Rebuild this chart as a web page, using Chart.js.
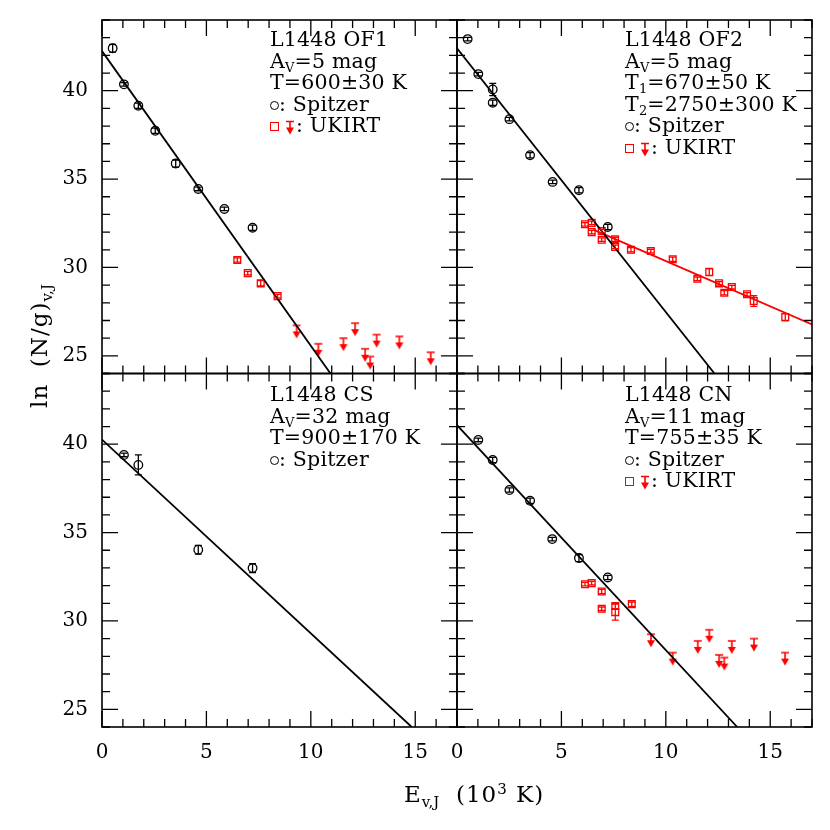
<!DOCTYPE html>
<html>
<head>
<meta charset="utf-8">
<script src="https://cdn.jsdelivr.net/npm/chart.js@4.4.0/dist/chart.umd.min.js"></script>
<style>
    body { margin: 0; background: #fff; }
    #wrap { position: relative; width: 830px; height: 830px; font-family: "DejaVu Serif", serif; }
    #chart { position: absolute; left: 0; top: 0; }
    .note { position: absolute; font-size: 20.5px; letter-spacing: 0.2px; line-height: 21.5px; color: #000; white-space: nowrap; }
    .note sub { font-size: 13px; line-height: 0; vertical-align: -4px; }
    .title { position: absolute; font-size: 23px; line-height: 24px; letter-spacing: 1px; color: #000; white-space: nowrap; }
    .title sub { font-size: 15px; line-height: 0; vertical-align: -5px; letter-spacing: 0; }
    .title sup { font-size: 15px; line-height: 0; vertical-align: 8px; }
    .circ { display: inline-block; width: 7px; height: 7px; border: 1.5px solid #000; border-radius: 50%; vertical-align: 1px; }
    .sq { display: inline-block; width: 7px; height: 7px; border: 1.5px solid #f00; vertical-align: 1px; margin-right: 5px; }
    .arr { vertical-align: -3px; }
</style>
</head>
<body>
<div id="wrap">
    <canvas id="chart" width="830" height="830"></canvas>

    <div class="note" style="left:270px; top:29px">L1448 OF1<br>A<sub>V</sub>=5 mag<br>T=600±30 K<br><span class="circ"></span>: Spitzer<br><span class="sq"></span><span class="arr-slot"></span>: UKIRT</div>
    <div class="note" style="left:625px; top:29px">L1448 OF2<br>A<sub>V</sub>=5 mag<br>T<sub>1</sub>=670±50 K<br>T<sub>2</sub>=2750±300 K<br><span class="circ"></span>: Spitzer<br><span class="sq"></span><span class="arr-slot"></span>: UKIRT</div>
    <div class="note" style="left:270px; top:384px">L1448 CS<br>A<sub>V</sub>=32 mag<br>T=900±170 K<br><span class="circ"></span>: Spitzer</div>
    <div class="note" style="left:625px; top:384px">L1448 CN<br>A<sub>V</sub>=11 mag<br>T=755±35 K<br><span class="circ"></span>: Spitzer<br><span class="sq"></span><span class="arr-slot"></span>: UKIRT</div>

    <div class="title" style="left:-111px; top:334px; width:300px; text-align:center; transform:rotate(-90deg)">ln&nbsp; (N/g)<sub>v,J</sub></div>
    <div class="title" style="left:404px; top:782px">E<sub>v,J</sub>&nbsp; (10<sup>3</sup> K)</div>
</div>

<script>
    // L1448 OF1
    const of1SpitzerE = [0.51, 1.05, 1.74, 2.55, 3.53, 4.61, 5.86, 7.21];
    const of1SpitzerLn = [42.40, 40.36, 39.15, 37.73, 35.88, 34.44, 33.31, 32.25];
    const of1SpitzerErr = [0.22, 0.1, 0.15, 0.15, 0.2, 0.1, 0.1, 0.15];
    const of1UkirtE = [6.48, 6.98, 7.60, 8.41];
    const of1UkirtLn = [30.42, 29.68, 29.10, 28.38];
    const of1UkirtErr = [0.12, 0.1, 0.15, 0.1];
    const of1LimitE = [9.32, 10.36, 11.56, 12.12, 12.60, 12.84, 13.15, 14.24, 15.74];
    const of1LimitLn = [26.72, 25.68, 26.0, 26.85, 25.4, 24.96, 26.2, 26.1, 25.2];
    const of1FitE = [0, 10.94];
    const of1FitLn = [42.24, 24];

    // L1448 OF2
    const of2SpitzerE = [0.51, 1.02, 1.71, 1.71, 2.51, 3.50, 4.58, 5.84, 7.22];
    const of2SpitzerLn = [42.92, 40.94, 40.07, 39.32, 38.39, 36.35, 34.84, 34.37, 32.29];
    const of2SpitzerErr = [0.1, 0.1, 0.35, 0.15, 0.1, 0.15, 0.1, 0.15, 0.15];
    const of2UkirtE = [6.13, 6.45, 6.45, 6.93, 6.93, 7.57, 7.57, 8.33, 9.28, 10.33, 11.51, 12.08, 12.55, 12.80, 13.16, 13.89, 14.21, 15.72];
    const of2UkirtLn = [32.44, 32.52, 32.0, 32.06, 31.57, 31.59, 31.16, 31.0, 30.93, 30.46, 29.36, 29.74, 29.10, 28.57, 28.89, 28.48, 28.10, 27.19];
    const of2UkirtErr = [0.1, 0.1, 0.1, 0.1, 0.1, 0.12, 0.1, 0.12, 0.1, 0.12, 0.1, 0.2, 0.1, 0.12, 0.1, 0.1, 0.3, 0.2];
    const of2FitE = [0, 12.33];
    const of2FitLn = [42.40, 24];
    const of2Fit2E = [6.53, 17];
    const of2Fit2Ln = [32.14, 26.77];

    // L1448 CS
    const csSpitzerE = [1.05, 1.74, 4.61, 7.21];
    const csSpitzerLn = [39.39, 38.83, 34.03, 32.99];
    const csSpitzerErr = [0.1, 0.57, 0.25, 0.25];
    const csFitE = [0, 14.83];
    const csFitLn = [40.26, 24];

    // L1448 CN
    const cnSpitzerE = [1.02, 1.71, 2.51, 3.50, 4.56, 5.84, 7.22];
    const cnSpitzerLn = [40.24, 39.11, 37.41, 36.80, 34.63, 33.56, 32.46];
    const cnSpitzerErr = [0.1, 0.15, 0.12, 0.15, 0.1, 0.2, 0.12];
    const cnUkirtE = [6.13, 6.45, 6.93, 6.93, 7.58, 7.58, 8.37];
    const cnUkirtLn = [32.08, 32.14, 31.67, 30.69, 30.85, 30.50, 30.95];
    const cnUkirtErr = [0.1, 0.1, 0.12, 0.1, 0.15, 0.45, 0.12];
    const cnLimitE = [9.29, 10.33, 11.53, 12.08, 12.55, 12.80, 13.16, 14.22, 15.71];
    const cnLimitLn = [29.25, 28.21, 28.87, 29.5, 28.08, 27.93, 28.87, 29.0, 28.21];
    const cnFitE = [0, 13.42];
    const cnFitLn = [41.08, 24];

    const red = '#ff0000';

    // upper limit symbol: bar at (6, top), arrow pointing down
    function makeArrow(color, top, height) {
        const c = document.createElement('canvas');
        c.width = 12;
        c.height = height;
        const g = c.getContext('2d');
        g.strokeStyle = color;
        g.fillStyle = color;
        g.lineWidth = 1.6;
        g.beginPath();
        g.moveTo(2, top);
        g.lineTo(10, top);
        g.moveTo(6, top);
        g.lineTo(6, top + 8);
        g.stroke();
        g.beginPath();
        g.moveTo(2, top + 6);
        g.lineTo(10, top + 6);
        g.lineTo(6, top + 13);
        g.closePath();
        g.fill();
        return c;
    }

    const arrow = makeArrow(red, 14, 28);

    document.querySelectorAll('.arr-slot').forEach(slot => {
        const a = makeArrow(red, 1.5, 15);
        a.className = 'arr';
        slot.appendChild(a);
    });

    function pts(xs, ys) {
        return xs.map((x, i) => ({x: x, y: ys[i]}));
    }

    function spitzer(xs, ys, err, xAxis, yAxis) {
        return {
            data: pts(xs, ys), yErr: err, xAxisID: xAxis, yAxisID: yAxis,
            pointStyle: 'circle', pointRadius: 4.3, borderColor: '#000', borderWidth: 1.3,
            backgroundColor: 'rgba(0,0,0,0)'
        };
    }

    function ukirt(xs, ys, err, xAxis, yAxis) {
        return {
            data: pts(xs, ys), yErr: err, xAxisID: xAxis, yAxisID: yAxis,
            pointStyle: 'rect', pointRadius: 4.8, borderColor: red, borderWidth: 1.3,
            backgroundColor: 'rgba(0,0,0,0)'
        };
    }

    function limits(xs, ys, xAxis, yAxis) {
        return {
            data: pts(xs, ys), xAxisID: xAxis, yAxisID: yAxis,
            pointStyle: arrow, pointRadius: 6, borderColor: red, backgroundColor: red
        };
    }

    function fit(xs, ys, color, xAxis, yAxis) {
        return {
            data: pts(xs, ys), xAxisID: xAxis, yAxisID: yAxis,
            showLine: true, pointRadius: 0, borderColor: color, borderWidth: 1.8
        };
    }

    const errorBars = {
        id: 'errorBars',
        afterDatasetsDraw(chart) {
            const ctx = chart.ctx;
            ctx.save();
            chart.data.datasets.forEach((ds, i) => {
                if (!ds.yErr) return;
                const meta = chart.getDatasetMeta(i);
                const ys = chart.scales[ds.yAxisID];
                ctx.strokeStyle = ds.borderColor;
                ctx.lineWidth = 1.3;
                ctx.beginPath();
                meta.data.forEach((el, j) => {
                    const top = ys.getPixelForValue(ds.data[j].y + ds.yErr[j]);
                    const bot = ys.getPixelForValue(ds.data[j].y - ds.yErr[j]);
                    ctx.moveTo(el.x, top);
                    ctx.lineTo(el.x, bot);
                    ctx.moveTo(el.x - 3.5, top);
                    ctx.lineTo(el.x + 3.5, top);
                    ctx.moveTo(el.x - 3.5, bot);
                    ctx.lineTo(el.x + 3.5, bot);
                });
                ctx.stroke();
            });
            ctx.restore();
        }
    };

    // panel frames with inward ticks on all four sides
    const frames = {
        id: 'frames',
        afterDraw(chart) {
            const ctx = chart.ctx;
            const panels = [['xL', 'yT'], ['xR', 'yT'], ['xL', 'yB'], ['xR', 'yB']];
            ctx.save();
            ctx.strokeStyle = '#000';
            panels.forEach(([xa, ya]) => {
                const xs = chart.scales[xa];
                const ys = chart.scales[ya];
                ctx.lineWidth = 1.6;
                ctx.strokeRect(xs.left, ys.top, xs.right - xs.left, ys.bottom - ys.top);
                ctx.lineWidth = 1.3;
                ctx.beginPath();
                xs.ticks.forEach(t => {
                    const px = xs.getPixelForValue(t.value);
                    const len = t.value % 5 === 0 ? 16 : 8;
                    ctx.moveTo(px, ys.bottom);
                    ctx.lineTo(px, ys.bottom - len);
                    ctx.moveTo(px, ys.top);
                    ctx.lineTo(px, ys.top + len);
                });
                ys.ticks.forEach(t => {
                    const py = ys.getPixelForValue(t.value);
                    const len = t.value % 5 === 0 ? 16 : 8;
                    ctx.moveTo(xs.left, py);
                    ctx.lineTo(xs.left + len, py);
                    ctx.moveTo(xs.right, py);
                    ctx.lineTo(xs.right - len, py);
                });
                ctx.stroke();
            });
            ctx.restore();
        }
    };

    const tickFont = {family: 'DejaVu Serif', size: 20};

    function xScale() {
        return {
            type: 'linear', position: 'bottom', stack: 'x', min: 0, max: 17,
            grid: {display: false, drawTicks: false}, border: {display: false},
            ticks: {
                stepSize: 1, autoSkip: false, maxRotation: 0, padding: 14, color: '#000', font: tickFont,
                callback: v => v % 5 === 0 ? String(v) : ''
            },
            afterFit: s => {
                s.height = 103;
                s.paddingLeft = 0;
                s.paddingRight = 0;
            }
        };
    }

    function yScale() {
        return {
            type: 'linear', position: 'left', stack: 'y', min: 24, max: 44,
            grid: {display: false, drawTicks: false}, border: {display: false},
            ticks: {
                stepSize: 1, autoSkip: false, padding: 14, color: '#000', font: tickFont,
                callback: v => v % 5 === 0 ? String(v) : ''
            },
            afterFit: s => {
                s.width = 102;
                s.paddingTop = 0;
                s.paddingBottom = 0;
            }
        };
    }

    new Chart(document.getElementById('chart'), {
        type: 'scatter',
        data: {
            datasets: [
                fit(of1FitE, of1FitLn, '#000', 'xL', 'yT'),
                spitzer(of1SpitzerE, of1SpitzerLn, of1SpitzerErr, 'xL', 'yT'),
                ukirt(of1UkirtE, of1UkirtLn, of1UkirtErr, 'xL', 'yT'),
                limits(of1LimitE, of1LimitLn, 'xL', 'yT'),

                fit(of2FitE, of2FitLn, '#000', 'xR', 'yT'),
                fit(of2Fit2E, of2Fit2Ln, red, 'xR', 'yT'),
                spitzer(of2SpitzerE, of2SpitzerLn, of2SpitzerErr, 'xR', 'yT'),
                ukirt(of2UkirtE, of2UkirtLn, of2UkirtErr, 'xR', 'yT'),

                fit(csFitE, csFitLn, '#000', 'xL', 'yB'),
                spitzer(csSpitzerE, csSpitzerLn, csSpitzerErr, 'xL', 'yB'),

                fit(cnFitE, cnFitLn, '#000', 'xR', 'yB'),
                spitzer(cnSpitzerE, cnSpitzerLn, cnSpitzerErr, 'xR', 'yB'),
                ukirt(cnUkirtE, cnUkirtLn, cnUkirtErr, 'xR', 'yB'),
                limits(cnLimitE, cnLimitLn, 'xR', 'yB')
            ]
        },
        options: {
            responsive: false,
            animation: false,
            layout: {padding: {top: 20, right: 18, left: 0, bottom: 0}},
            plugins: {legend: {display: false}, tooltip: {enabled: false}},
            scales: {
                xL: xScale(),
                xR: xScale(),
                yB: yScale(),
                yT: yScale()
            }
        },
        plugins: [errorBars, frames]
    });
</script>
</body>
</html>
